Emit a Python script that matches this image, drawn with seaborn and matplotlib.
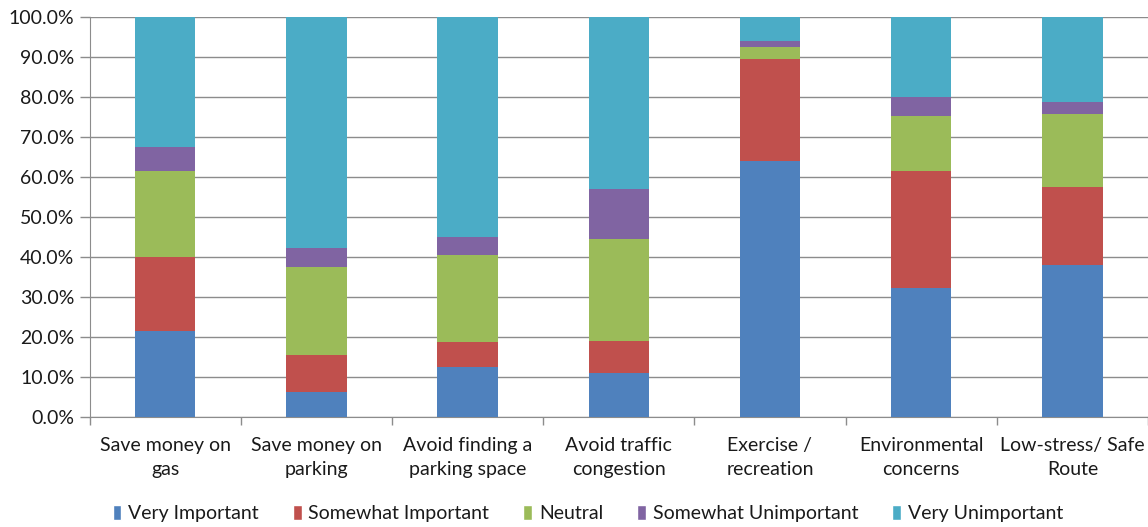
import matplotlib
matplotlib.use("Agg")
import matplotlib.pyplot as plt
import matplotlib.ticker as mticker
from matplotlib.patches import Patch
import numpy as np
import pandas as pd
import seaborn as sns

categories = ["Save money on\ngas", "Save money on\nparking", "Avoid finding a\nparking space",
              "Avoid traffic\ncongestion", "Exercise /\nrecreation", "Environmental\nconcerns",
              "Low-stress/ Safe\nRoute"]
levels = ["Very Important", "Somewhat Important", "Neutral", "Somewhat Unimportant", "Very Unimportant"]
very_important = [21.5, 6.3, 12.5, 11.0, 64.1, 32.3, 38.0]
somewhat_important = [18.5, 9.2, 6.3, 8.1, 25.4, 29.3, 19.6]
neutral = [21.6, 22.0, 21.8, 25.4, 3.0, 13.7, 18.2]
somewhat_unimportant = [6.0, 4.7, 4.5, 12.6, 1.5, 4.7, 3.0]
very_unimportant = [32.4, 57.8, 54.9, 42.9, 6.0, 20.0, 21.2]
colors = ["#4F81BD", "#C0504D", "#9BBB59", "#8064A2", "#4BACC6"]

df = pd.DataFrame({"cat": categories, levels[0]: very_important, levels[1]: somewhat_important,
                   levels[2]: neutral, levels[3]: somewhat_unimportant, levels[4]: very_unimportant})
cum = df[levels].cumsum(axis=1)
cum[levels[-1]] = 100.0  # round to exactly 100%

sns.set_style("white")
plt.rcParams["font.family"] = ["Lato", "DejaVu Sans"]

fig, ax = plt.subplots(figsize=(11.48, 5.27), dpi=100)
fig.subplots_adjust(left=0.078, right=1.0, top=0.968, bottom=0.208)

# stacked bars: draw cumulative totals from the top layer down
for lvl, col in reversed(list(zip(levels, colors))):
    sns.barplot(x=df["cat"], y=cum[lvl], color=col, width=0.4, saturation=1,
                linewidth=0, ax=ax, zorder=3)

ax.set_ylim(0, 100)
ax.set_xlim(-0.5, len(categories) - 0.5)
ax.yaxis.set_major_locator(mticker.MultipleLocator(10))
ax.yaxis.set_major_formatter(mticker.FuncFormatter(lambda v, p: f"{v:.1f}%"))
ax.grid(axis="y", color="#8c8c8c", linewidth=1, zorder=0)
ax.set_axisbelow(True)

for s in ["top", "right"]:
    ax.spines[s].set_visible(False)
ax.spines["left"].set_color("#8c8c8c")
ax.spines["bottom"].set_color("#8c8c8c")

ax.set_xlabel("")
ax.set_ylabel("")
ax.set_xticks(range(len(categories)))
ax.set_xticklabels(categories, fontsize=14, linespacing=1.5, color="#1a1a1a")
ax.set_xticks(np.arange(-0.5, len(categories) + 0.5, 1), minor=True)
ax.tick_params(axis="x", which="major", bottom=True, length=0, pad=14)
ax.tick_params(axis="x", which="minor", bottom=True, length=6, width=1,
               color="#8c8c8c", direction="out")
ax.tick_params(axis="y", left=True, length=7, width=1, color="#8c8c8c", labelsize=14,
               pad=4, labelcolor="#1a1a1a")

handles = [Patch(facecolor=c, label=l) for l, c in zip(levels, colors)]
fig.legend(handles=handles, loc="center", bbox_to_anchor=(0.512, 0.025), ncol=5,
           frameon=False, fontsize=14, handlelength=0.45, handleheight=0.8,
           handletextpad=0.35, columnspacing=1.75, labelcolor="#1a1a1a")

fig.savefig("out.png", dpi=100)
